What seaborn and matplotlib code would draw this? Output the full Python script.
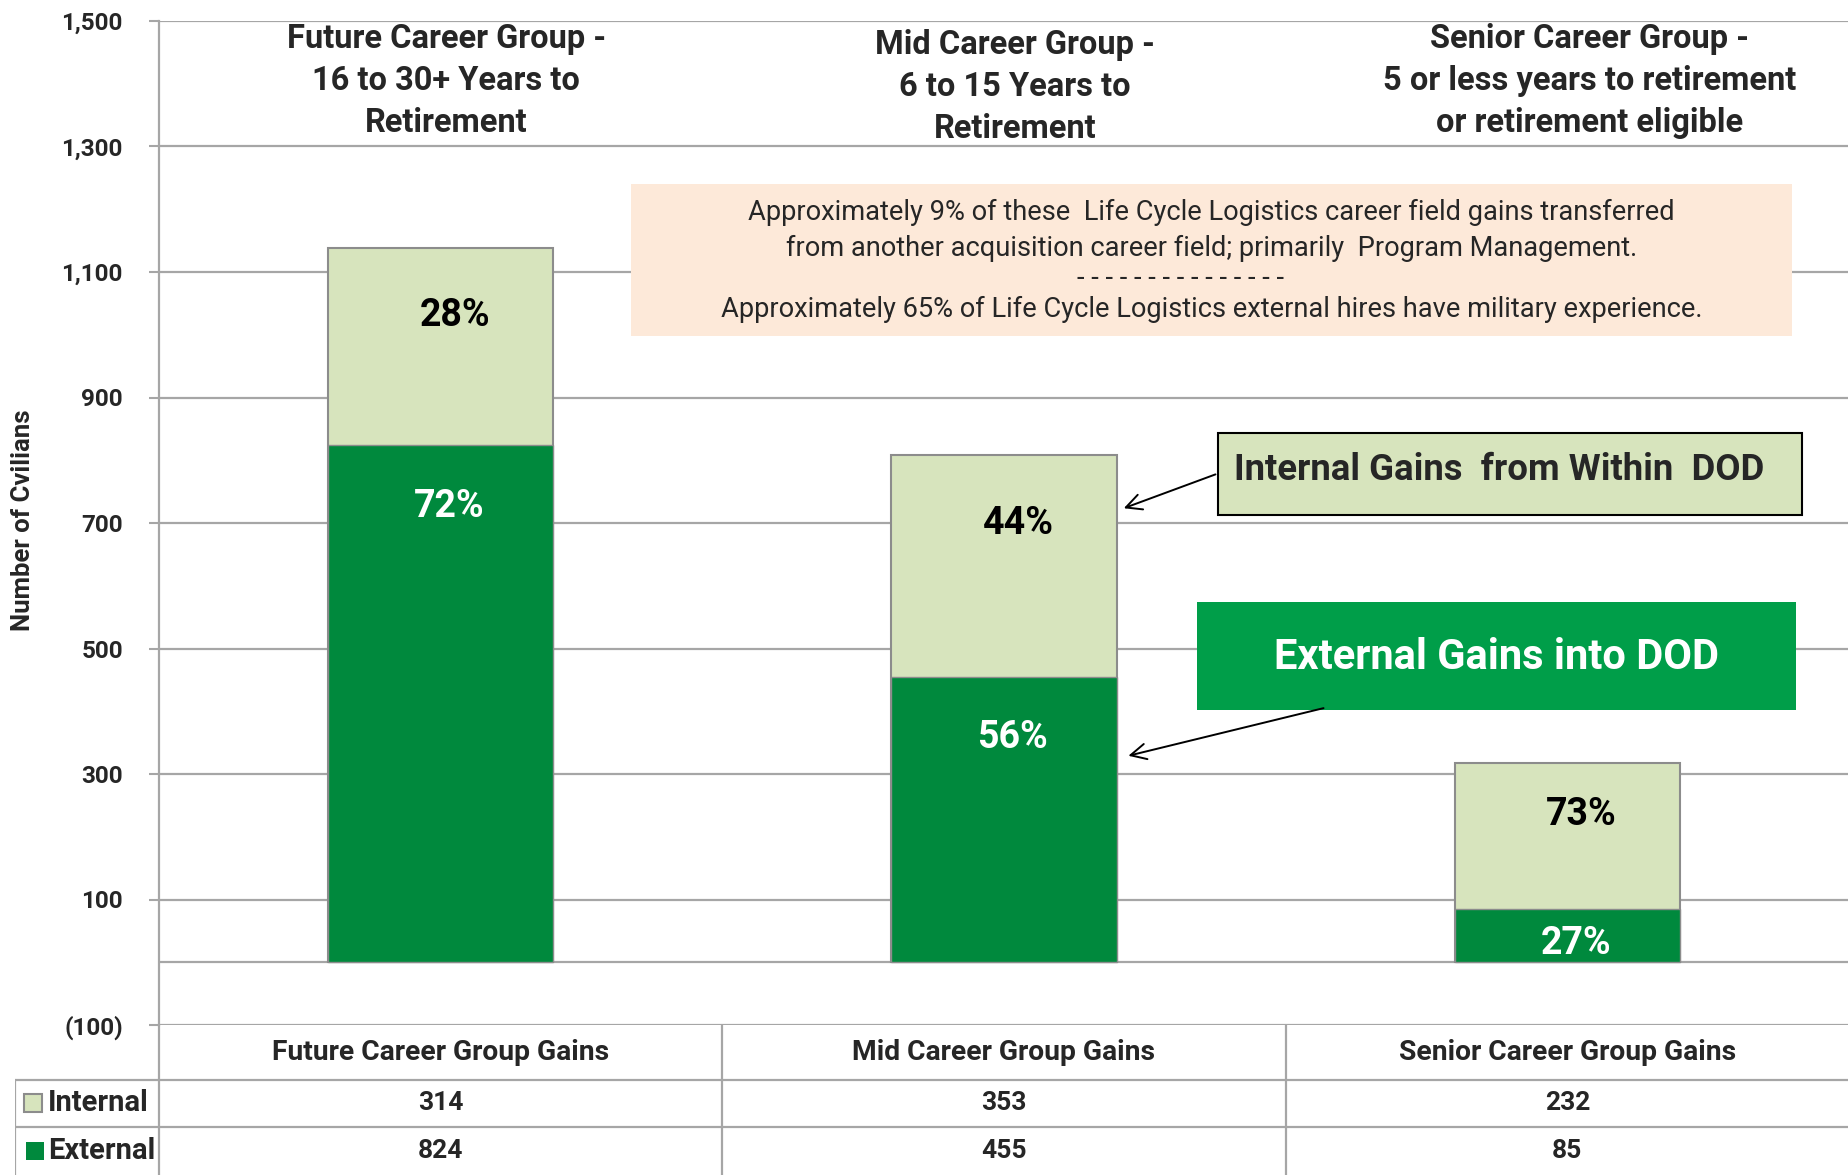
#!/usr/bin/env python3
"""
plot.py — Life Cycle Logistics career field gains by career group
(stacked Internal / External bars with a data table underneath).
"""

import matplotlib
matplotlib.use("Agg")
import matplotlib.pyplot as plt
import matplotlib.patches as mpatches
import seaborn as sns

# ── Data ──────────────────────────────────────────────────────────────────────

GROUPS = ["Future Career Group Gains", "Mid Career Group Gains", "Senior Career Group Gains"]
GROUP_TITLES = [
    "Future Career Group -\n16 to 30+ Years to\nRetirement",
    "Mid Career Group -\n6 to 15 Years to\nRetirement",
    "Senior Career Group -\n5 or less years to retirement\nor retirement eligible",
]
INTERNAL = [314, 353, 232]
EXTERNAL = [824, 455, 85]
Y_TICKS = [-100, 100, 300, 500, 700, 900, 1100, 1300, 1500]

NOTE_LINES = [
    "Approximately 9% of these  Life Cycle Logistics career field gains transferred",
    "from another acquisition career field; primarily  Program Management.",
    "- " * 14 + "-",
    "Approximately 65% of Life Cycle Logistics external hires have military experience.",
]

# ── Style ─────────────────────────────────────────────────────────────────────

C_INT = "#D7E4BD"
C_EXT = "#00893D"
C_EXT_BOX = "#009E49"
C_NOTE = "#FDE9D9"
C_GRID = "#A6A6A6"
BAR_WIDTH = 0.4

sns.set_style("white")
plt.rcParams["font.family"] = ["Roboto", "DejaVu Sans"]

W, H = 1849, 1175
PX_PER_CAT = (W - 159) / 3
fig = plt.figure(figsize=(W / 100, H / 100), dpi=100)

# plot area in pixel terms: left spine at x=159, y=1500 at 21 px, y=-100 at 1025 px
ax = fig.add_axes([159 / W, 1 - 1025 / H, 1 - 159 / W, (1025 - 21) / H])

totals = [i + e for i, e in zip(INTERNAL, EXTERNAL)]

# stacked bars: totals in light green, external drawn over the lower part
sns.barplot(x=GROUPS, y=totals, color=C_INT, edgecolor="#8C8C8C", linewidth=1.5,
            width=BAR_WIDTH, saturation=1, ax=ax, zorder=3)
sns.barplot(x=GROUPS, y=EXTERNAL, color=C_EXT, edgecolor="#8C8C8C", linewidth=1.0,
            width=BAR_WIDTH, saturation=1, ax=ax, zorder=4)

ax.set_xlim(-0.5, 2.5)
ax.set_ylim(-100, 1500)
ax.set_xlabel("")
ax.set_ylabel("")
ax.set_xticks([])
ax.set_yticks(Y_TICKS)
ax.set_yticklabels([f"({abs(v):,})" if v < 0 else f"{v:,}" for v in Y_TICKS],
                   fontweight="bold", fontsize=17.5)
ax.tick_params(axis="y", length=7, width=1.5, color=C_GRID, pad=19, left=True)
ax.grid(axis="y", color=C_GRID, linewidth=1.6, zorder=0)
ax.set_axisbelow(True)
ax.axhline(0, color=C_GRID, linewidth=1.6, zorder=1)
for side in ["top", "right", "bottom"]:
    ax.spines[side].set_visible(False)
ax.spines["left"].set_color(C_GRID)
ax.spines["left"].set_linewidth(1.6)

fig.text(23 / W, 1 - 520 / H, "Number of Cvilians", rotation=90, ha="center",
         va="center", fontsize=18.5, fontweight="bold")

# ── Percent labels inside the segments ────────────────────────────────────────

for i, (n_int, n_ext) in enumerate(zip(INTERNAL, EXTERNAL)):
    tot = n_int + n_ext
    p_ext = round(100 * n_ext / tot)
    p_int = 100 - p_ext
    y_int = tot - min(108, 0.35 * n_int)
    y_ext = n_ext - min(97, 0.65 * n_ext)
    ax.text(i + 0.025, y_int, f"{p_int}%", ha="center", va="center", fontsize=27,
            fontweight="bold", color="black", zorder=6)
    ax.text(i + 0.015, y_ext, f"{p_ext}%", ha="center", va="center", fontsize=27,
            fontweight="bold", color="white", zorder=6)

# group titles above the bars
title_dx = [0.01, 0.02, 0.04]
title_y = [1404, 1395, 1404]
for i, t in enumerate(GROUP_TITLES):
    ax.text(i + title_dx[i], title_y[i], t, ha="center", va="center", fontsize=23.5,
            fontweight="bold", linespacing=1.4, zorder=6)

# ── Notes and callouts ────────────────────────────────────────────────────────

ax.add_patch(mpatches.Rectangle((0.338, 998), 2.061, 243, facecolor=C_NOTE,
                                edgecolor="none", zorder=2))
note_x = [1.368, 1.368, 1.313, 1.368]
for txt, x, y in zip(NOTE_LINES, note_x, [1195, 1137, 1090, 1041]):
    ax.text(x, y, txt, ha="center", va="center", fontsize=19.6, zorder=6)

ax.add_patch(mpatches.Rectangle((1.380, 713), 1.037, 130, facecolor=C_INT,
                                edgecolor="black", linewidth=1.5, zorder=5))
ax.text(1.408, 784, "Internal Gains  from Within  DOD", ha="left", va="center",
        fontsize=26.3, fontweight="bold", zorder=6)

ax.add_patch(mpatches.Rectangle((1.343, 402), 1.063, 172, facecolor=C_EXT_BOX,
                                edgecolor="none", zorder=5))
ax.text(1.875, 485, "External Gains into DOD", ha="center", va="center",
        fontsize=30, fontweight="bold", color="white", zorder=6)

edge = 1 + BAR_WIDTH / 2 + 0.008
ax.annotate("", xy=(edge, 722), xytext=(1.380, 779),
            arrowprops=dict(arrowstyle="->", color="black", lw=1.4, mutation_scale=28),
            zorder=7)
ax.annotate("", xy=(edge + 0.008, 328), xytext=(1.572, 406),
            arrowprops=dict(arrowstyle="->", color="black", lw=1.4, mutation_scale=28),
            zorder=7)

# ── Data table under the chart ────────────────────────────────────────────────

tab = fig.add_axes([15 / W, 0, 1 - 15 / W, (H - 1025) / H])
x_left = -0.5 - (159 - 15) / PX_PER_CAT
tab.set_xlim(x_left, 2.5)
tab.set_ylim(150, 0)
tab.axis("off")

lk = dict(color=C_GRID, linewidth=1.6)
tab.plot([x_left, 2.5], [55, 55], **lk)
tab.plot([x_left, 2.5], [102, 102], **lk)
tab.plot([x_left, x_left], [55, 150], **lk)
for xv in [-0.5, 0.5, 1.5]:
    tab.plot([xv, xv], [0, 150], **lk)

for i, g in enumerate(GROUPS):
    tab.text(i, 27, g, ha="center", va="center", fontsize=20.3, fontweight="bold")
    tab.text(i, 78, f"{INTERNAL[i]}", ha="center", va="center", fontsize=19,
             fontweight="bold")
    tab.text(i, 126, f"{EXTERNAL[i]}", ha="center", va="center", fontsize=19,
             fontweight="bold")

sw = 18 / PX_PER_CAT
tab.add_patch(mpatches.Rectangle((x_left + 9 / PX_PER_CAT, 69), sw, 18,
                                 facecolor=C_INT, edgecolor="#8C8C8C", linewidth=1.5))
tab.add_patch(mpatches.Rectangle((x_left + 11 / PX_PER_CAT, 117), sw, 18,
                                 facecolor=C_EXT, edgecolor="none"))
tab.text(x_left + 33 / PX_PER_CAT, 78, "Internal", ha="left", va="center",
         fontsize=21, fontweight="bold")
tab.text(x_left + 33 / PX_PER_CAT, 126, "External", ha="left", va="center",
         fontsize=21, fontweight="bold")

fig.savefig("out.png", dpi=100)
print("Saved: out.png")
